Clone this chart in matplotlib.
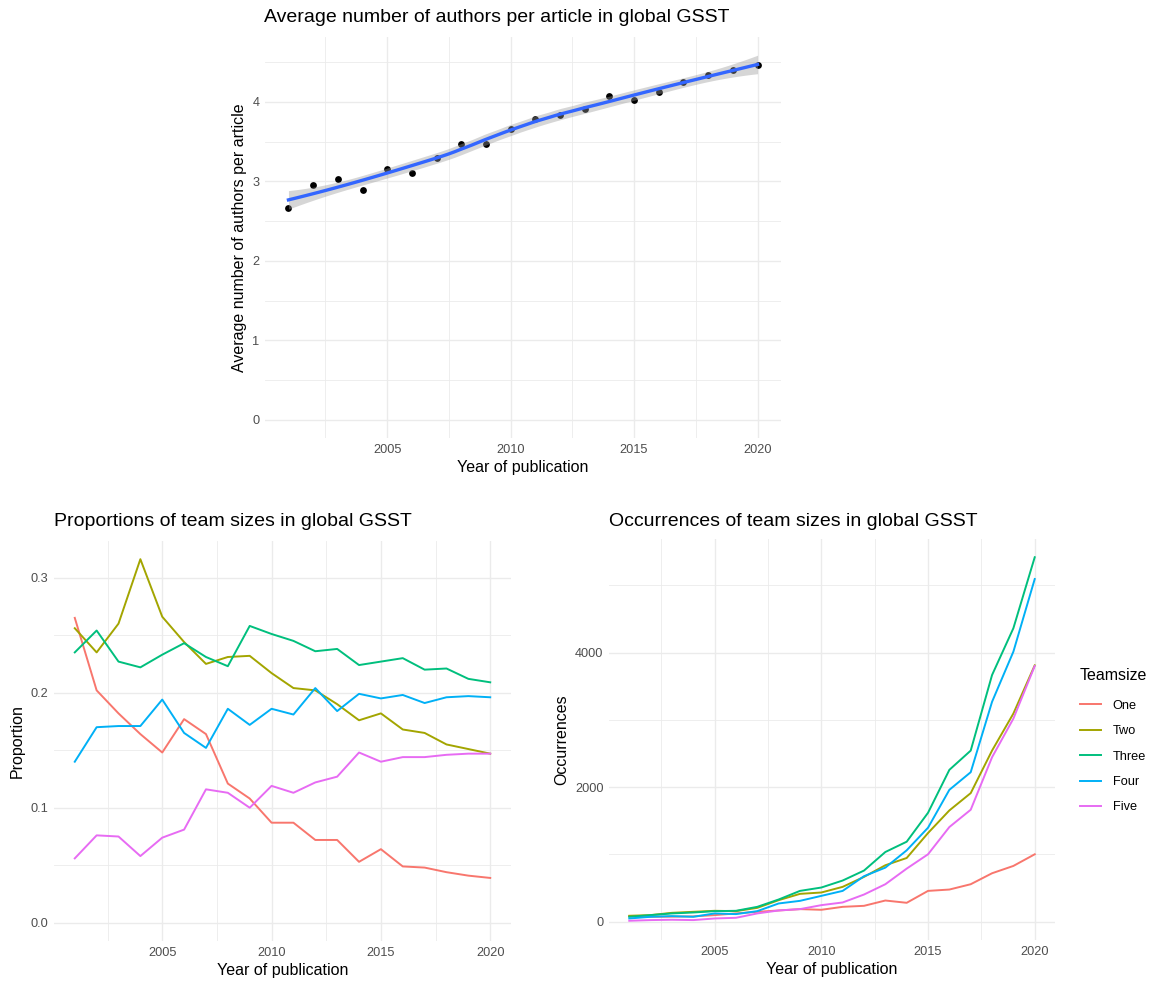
import numpy as np
import matplotlib
matplotlib.use('Agg')
import matplotlib.pyplot as plt

plt.rcParams['font.family'] = ['Liberation Sans', 'DejaVu Sans']

W, H = 1159, 981

years = np.arange(2001, 2021)

# Average number of authors per article
avg_authors = [2.67, 2.96, 3.03, 2.89, 3.15, 3.11, 3.30, 3.47, 3.47, 3.66,
               3.78, 3.84, 3.91, 4.08, 4.02, 4.12, 4.25, 4.34, 4.40, 4.47]

teamsizes = ['One', 'Two', 'Three', 'Four', 'Five']
colors = ['#F8766D', '#A3A500', '#00BF7D', '#00B0F6', '#E76BF3']

# Share of articles per team size
prop_one = [0.265, 0.202, 0.182, 0.164, 0.148, 0.177, 0.164, 0.121, 0.108, 0.087,
            0.087, 0.072, 0.072, 0.053, 0.064, 0.049, 0.048, 0.044, 0.041, 0.039]
prop_two = [0.256, 0.235, 0.260, 0.316, 0.266, 0.244, 0.225, 0.231, 0.232, 0.217,
            0.204, 0.202, 0.190, 0.176, 0.182, 0.168, 0.165, 0.155, 0.151, 0.147]
prop_three = [0.235, 0.254, 0.227, 0.222, 0.233, 0.243, 0.231, 0.223, 0.258, 0.251,
              0.245, 0.236, 0.238, 0.224, 0.227, 0.230, 0.220, 0.221, 0.212, 0.209]
prop_four = [0.140, 0.170, 0.171, 0.171, 0.194, 0.165, 0.152, 0.186, 0.172, 0.186,
             0.181, 0.204, 0.184, 0.199, 0.195, 0.198, 0.191, 0.196, 0.197, 0.196]
prop_five = [0.056, 0.076, 0.075, 0.058, 0.074, 0.081, 0.116, 0.113, 0.100, 0.119,
             0.113, 0.122, 0.127, 0.148, 0.140, 0.144, 0.144, 0.146, 0.147, 0.147]

# Number of articles per team size
occ_one = [84, 74, 76, 80, 99, 124, 148, 168, 188, 178,
           222, 237, 316, 282, 459, 479, 558, 721, 830, 1003]
occ_two = [89, 99, 133, 148, 163, 158, 207, 321, 415, 435,
           519, 667, 840, 948, 1319, 1655, 1912, 2544, 3095, 3811]
occ_three = [74, 99, 124, 138, 158, 163, 222, 331, 459, 509,
             613, 761, 1037, 1190, 1620, 2258, 2544, 3667, 4363, 5418]
occ_four = [49, 74, 84, 74, 124, 114, 158, 272, 311, 385,
            459, 677, 805, 1062, 1398, 1961, 2223, 3269, 4015, 5094]
occ_five = [15, 25, 30, 25, 49, 59, 124, 168, 188, 247,
            287, 405, 558, 790, 1003, 1408, 1665, 2445, 3020, 3801]

proportions = [prop_one, prop_two, prop_three, prop_four, prop_five]
occurrences = [occ_one, occ_two, occ_three, occ_four, occ_five]

GRID = '#EBEBEB'
TICK = '#4D4D4D'


def loess(x, y, span=0.75):
    """Local quadratic fit with tricube weights, plus a 95% band."""
    x = np.asarray(x, float)
    y = np.asarray(y, float)
    n = len(x)
    q = int(np.floor(span * n))

    def rows(x0):
        d = np.abs(x - x0)
        h = np.sort(d)[q - 1] * max(1.0, span)
        w = np.clip(1 - (d / h) ** 3, 0, None) ** 3
        X = np.column_stack([np.ones(n), x - x0, (x - x0) ** 2])
        A = X.T @ (w[:, None] * X)
        return np.linalg.solve(A, X.T * w)[0]

    L = np.array([rows(xi) for xi in x])
    res = y - L @ y
    M = (np.eye(n) - L).T @ (np.eye(n) - L)
    d1 = np.trace(M)
    d2 = np.trace(M @ M)
    s = np.sqrt(np.sum(res ** 2) / d1)
    df = d1 ** 2 / d2
    z = 1.959964
    t = z + (z ** 3 + z) / (4 * df) + (5 * z ** 5 + 16 * z ** 3 + 3 * z) / (96 * df ** 2)

    xs = np.linspace(x.min(), x.max(), 80)
    ls = np.array([rows(xi) for xi in xs])
    fit = ls @ y
    se = s * np.sqrt(np.sum(ls ** 2, axis=1))
    return xs, fit, fit - t * se, fit + t * se


def panel(left, top, right, bottom):
    ax = fig.add_axes([left / W, 1 - bottom / H, (right - left) / W, (bottom - top) / H])
    for s in ax.spines.values():
        s.set_visible(False)
    ax.tick_params(length=0, pad=4, labelsize=9.2, labelcolor=TICK)
    ax.set_axisbelow(True)
    return ax


def grid(ax, xmajor, xminor, ymajor, yminor):
    ax.set_xticks(xmajor)
    ax.set_yticks(ymajor)
    for v in xminor:
        ax.axvline(v, color=GRID, lw=0.6, zorder=0)
    for v in yminor:
        ax.axhline(v, color=GRID, lw=0.6, zorder=0)
    for v in xmajor:
        ax.axvline(v, color=GRID, lw=1.0, zorder=0)
    for v in ymajor:
        ax.axhline(v, color=GRID, lw=1.0, zorder=0)


def expand(lo, hi, f=0.05):
    r = hi - lo
    return lo - f * r, hi + f * r


fig = plt.figure(figsize=(W / 100, H / 100), dpi=100)
fig.patch.set_facecolor('white')

xlim = expand(2001, 2020)
xmaj = [2005, 2010, 2015, 2020]
xmin = [2002.5, 2007.5, 2012.5, 2017.5]

# --- average authors with loess smooth ---
ax1 = panel(265, 37, 781, 438)
xs, fit, lo, hi = loess(years, avg_authors)
ax1.scatter(years, avg_authors, s=24, color='black', zorder=2, linewidths=0)
ax1.fill_between(xs, lo, hi, color='#999999', alpha=0.4, lw=0, zorder=3)
ax1.plot(xs, fit, color='#3366FF', lw=2.4, zorder=4)
ax1.set_xlim(*xlim)
ax1.set_ylim(*expand(0, max(hi.max(), max(avg_authors))))
grid(ax1, xmaj, xmin, [0, 1, 2, 3, 4], [0.5, 1.5, 2.5, 3.5, 4.5])
ax1.set_xlabel('Year of publication', fontsize=11.5, labelpad=3)
ax1.set_ylabel('Average number of authors per article', fontsize=11.5, labelpad=4)
fig.text(264 / W, 1 - 18 / H, 'Average number of authors per article in global GSST',
         fontsize=14, va='center', ha='left')

# --- proportions ---
ax2 = panel(54, 541, 511, 941)
for vals, c in zip(proportions, colors):
    ax2.plot(years, vals, color=c, lw=1.4, zorder=3)
ax2.set_xlim(*xlim)
ax2.set_ylim(*expand(0, max(max(v) for v in proportions)))
grid(ax2, xmaj, xmin, [0.0, 0.1, 0.2, 0.3], [0.05, 0.15, 0.25])
ax2.set_yticklabels(['0.0', '0.1', '0.2', '0.3'])
ax2.set_xlabel('Year of publication', fontsize=11.5, labelpad=3)
ax2.set_ylabel('Proportion', fontsize=11.5, labelpad=4)
fig.text(54 / W, 1 - 522 / H, 'Proportions of team sizes in global GSST',
         fontsize=14, va='center', ha='left')

# --- occurrences ---
ax3 = panel(609, 539, 1055, 940)
for vals, c, name in zip(occurrences, colors, teamsizes):
    ax3.plot(years, vals, color=c, lw=1.4, zorder=3, label=name)
ax3.set_xlim(*xlim)
ax3.set_ylim(*expand(0, max(max(v) for v in occurrences)))
grid(ax3, xmaj, xmin, [0, 2000, 4000], [1000, 3000, 5000])
ax3.set_xlabel('Year of publication', fontsize=11.5, labelpad=3)
ax3.set_ylabel('Occurrences', fontsize=11.5, labelpad=4)
fig.text(609 / W, 1 - 522 / H, 'Occurrences of team sizes in global GSST',
         fontsize=14, va='center', ha='left')

leg = ax3.legend(title='Teamsize', loc='upper left', bbox_to_anchor=(1075 / W, 1 - 663 / H),
                 bbox_transform=fig.transFigure, frameon=False, fontsize=9.2,
                 title_fontsize=11.5, handlelength=1.6, handletextpad=0.95,
                 labelspacing=1.05, borderaxespad=0)
leg._legend_box.align = 'left'
leg._legend_box.sep = 12

fig.savefig('out.png', dpi=100, facecolor='white')
